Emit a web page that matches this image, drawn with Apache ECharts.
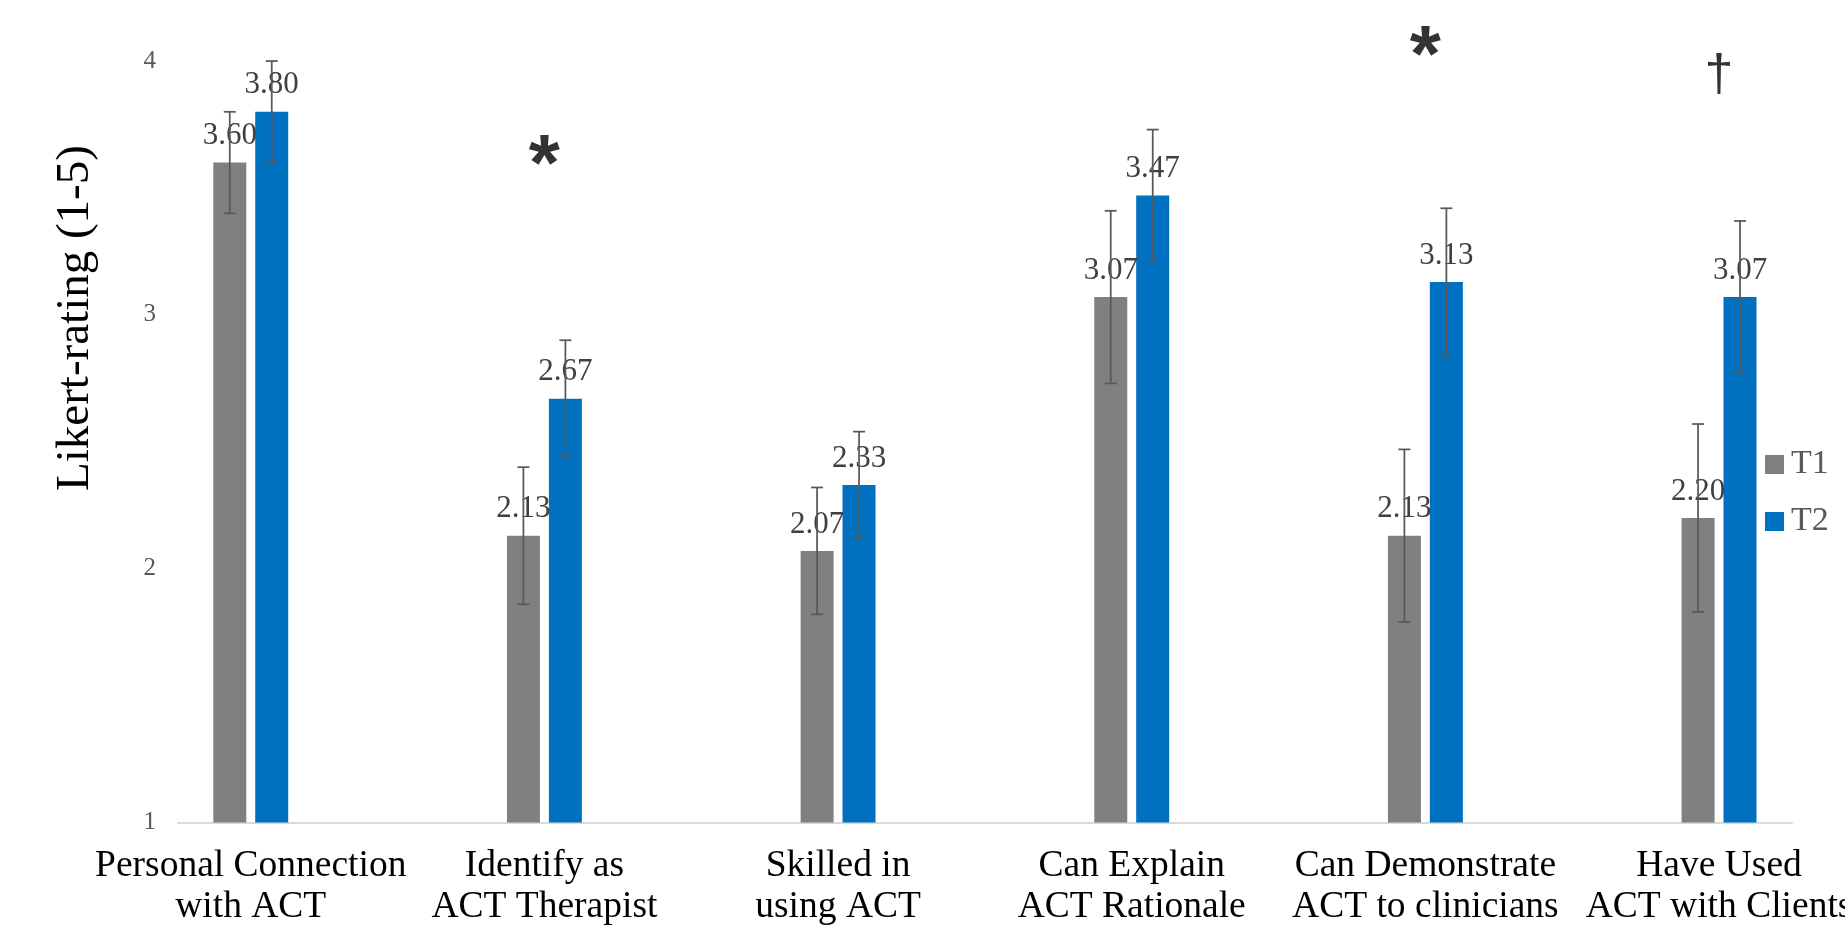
<!DOCTYPE html>
<html>
<head>
<meta charset="utf-8">
<script src="https://cdn.jsdelivr.net/npm/echarts@6/dist/echarts.min.js"></script>
<style>
html,body{margin:0;padding:0;background:#fff;}
#chart{width:1845px;height:928px;}
</style>
</head>
<body>
<div id="chart"></div>
<script>
const categories = ['Personal Connection\nwith ACT', 'Identify as\nACT Therapist', 'Skilled in\nusing ACT', 'Can Explain\nACT Rationale', 'Can Demonstrate\nACT to clinicians', 'Have Used\nACT with Clients'];
const t1Values = [3.60, 2.13, 2.07, 3.07, 2.13, 2.20];
const t2Values = [3.80, 2.67, 2.33, 3.47, 3.13, 3.07];
const t1Err = [0.20, 0.27, 0.25, 0.34, 0.34, 0.37];
const t2Err = [0.20, 0.23, 0.21, 0.26, 0.29, 0.30];
const yTicks = [1, 2, 3, 4];
const sigCategoryIndex = [1, 4, 5];
const sigLabels = ['*', '*', '\u2020'];
const sigHeights = [3.58, 4.01, 3.94];

const chart = echarts.init(document.getElementById('chart'));
const SERIF = '"Liberation Serif", "Times New Roman", serif';
const SANS = '"Liberation Sans", Arial, sans-serif';
const errColor = '#595959';

function errRenderer(offset) {
  return function (params, api) {
    const xi = api.value(0);
    const lo = api.coord([xi, api.value(1)]);
    const hi = api.coord([xi, api.value(2)]);
    const x = lo[0] + offset;
    const hw = 6;
    const st = { stroke: errColor, lineWidth: 1.75 };
    return {
      type: 'group',
      children: [
        { type: 'line', shape: { x1: x, y1: hi[1], x2: x, y2: lo[1] }, style: st },
        { type: 'line', shape: { x1: x - hw, y1: hi[1], x2: x + hw, y2: hi[1] }, style: st },
        { type: 'line', shape: { x1: x - hw, y1: lo[1], x2: x + hw, y2: lo[1] }, style: st }
      ]
    };
  };
}

const yMin = yTicks[0], yMax = 4.2;

const option = {
  animation: false,
  backgroundColor: '#fff',
  textStyle: { fontFamily: SERIF },
  grid: [
    { left: 178, right: 53, top: 10.3, bottom: 105.5, containLabel: false, outerBoundsMode: 'none' },
    { left: 250.75, right: 1845 - 1719.05, top: 10.3, bottom: 105.5, containLabel: false, outerBoundsMode: 'none' }
  ],
  xAxis: [
    {
      gridIndex: 0, type: 'value', min: 0, max: 1,
      axisLine: { show: true, lineStyle: { color: '#d9d9d9', width: 2 } },
      axisTick: { show: false }, axisLabel: { show: false }, splitLine: { show: false }
    },
    {
      gridIndex: 1, type: 'category', data: categories, boundaryGap: false,
      axisLine: { show: false }, axisTick: { show: false }, splitLine: { show: false },
      axisLabel: { interval: 0, margin: 23, fontFamily: SERIF, fontSize: 37.5, lineHeight: 41, color: '#000', align: 'center',
        showMinLabel: true, showMaxLabel: true, hideOverlap: false }
    }
  ],
  yAxis: [
    {
      gridIndex: 0, type: 'value', min: yMin, max: yMax, interval: 1,
      axisLine: { show: false }, axisTick: { show: false }, splitLine: { show: false },
      axisLabel: {
        margin: 22, fontFamily: SERIF, fontSize: 25, color: '#595959',
        formatter: function (v) { return yTicks.indexOf(v) >= 0 ? String(v) : ''; }
      }
    },
    { gridIndex: 1, type: 'value', min: yMin, max: yMax, interval: 1, show: false, splitLine: { show: false } }
  ],
  legend: {
    data: ['T1', 'T2'], orient: 'vertical', left: 1765, top: 447.5, padding: 0,
    icon: 'rect', itemWidth: 19, itemHeight: 19, itemGap: 23,
    textStyle: { fontFamily: SERIF, fontSize: 34, color: '#595959', padding: [0, 0, 0, 2] }
  },
  graphic: [{
    type: 'text', x: 76, y: 318, rotation: Math.PI / 2,
    style: { text: 'Likert-rating (1-5)', fontFamily: SERIF, fontSize: 47, fill: '#000', align: 'center', verticalAlign: 'middle' }
  }],
  series: [
    {
      name: 'T1', type: 'bar', xAxisIndex: 1, yAxisIndex: 1, data: t1Values,
      barWidth: 33, barGap: '27%', itemStyle: { color: '#808080' },
      label: { show: true, position: 'top', distance: 11, fontFamily: SERIF, fontSize: 31, color: '#404040',
        formatter: function (p) { return p.value.toFixed(2); } }
    },
    {
      name: 'T2', type: 'bar', xAxisIndex: 1, yAxisIndex: 1, data: t2Values,
      barWidth: 33, barGap: '27%', itemStyle: { color: '#0070C0' },
      label: { show: true, position: 'top', distance: 11, fontFamily: SERIF, fontSize: 31, color: '#404040',
        formatter: function (p) { return p.value.toFixed(2); } }
    },
    {
      name: 'T1 error', type: 'custom', xAxisIndex: 1, yAxisIndex: 1, z: 3,
      renderItem: errRenderer(-21), encode: { x: 0, y: [1, 2] },
      data: t1Values.map(function (v, i) { return [i, v - t1Err[i], v + t1Err[i]]; })
    },
    {
      name: 'T2 error', type: 'custom', xAxisIndex: 1, yAxisIndex: 1, z: 3,
      renderItem: errRenderer(21), encode: { x: 0, y: [1, 2] },
      data: t2Values.map(function (v, i) { return [i, v - t2Err[i], v + t2Err[i]]; })
    },
    {
      name: 'sig', type: 'scatter', xAxisIndex: 1, yAxisIndex: 1, symbolSize: 0, z: 4,
      data: sigCategoryIndex.map(function (ci, k) {
        const isStar = sigLabels[k] === '*';
        return {
          value: [ci, sigHeights[k]],
          label: {
            show: true, position: 'inside', formatter: sigLabels[k], color: '#000',
            fontFamily: SANS,
            fontWeight: isStar ? 'bold' : 'normal',
            fontSize: isStar ? 80 : 52
          }
        };
      })
    }
  ]
};
chart.setOption(option);
</script>
</body>
</html>
